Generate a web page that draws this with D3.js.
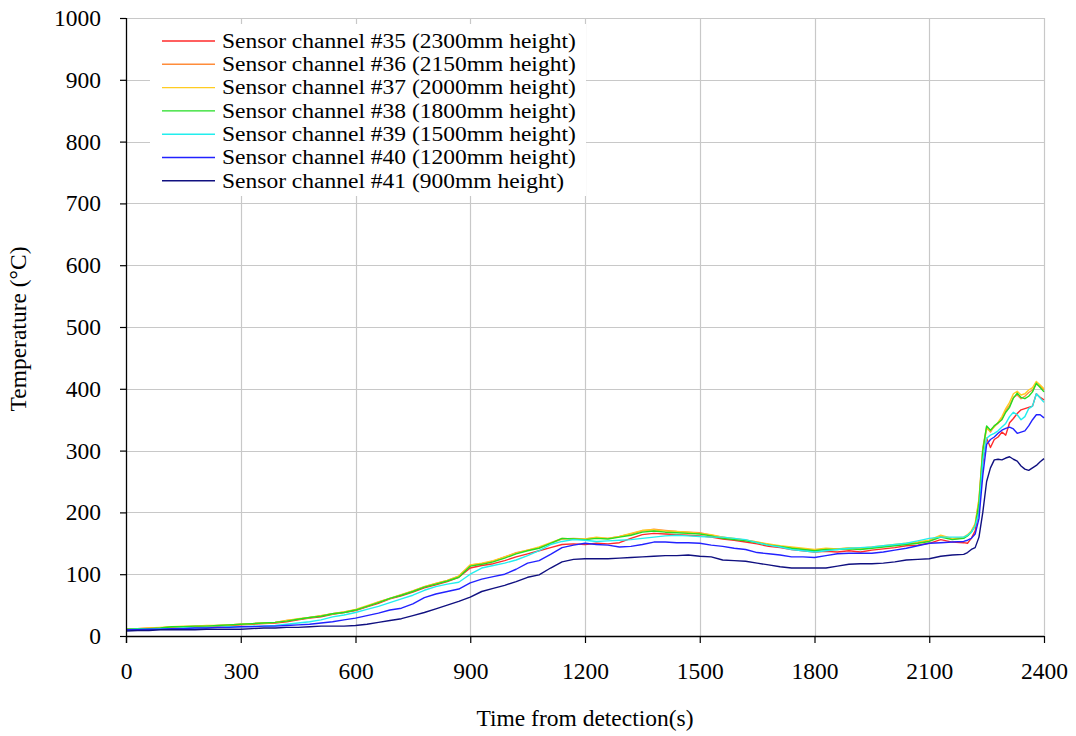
<!DOCTYPE html>
<html>
<head>
<meta charset="utf-8">
<script src="https://cdn.jsdelivr.net/npm/d3@7"></script>
<style>
  html, body { margin: 0; padding: 0; background: #fff; }
  svg { display: block; }
</style>
</head>
<body>
<svg id="chart" width="1076" height="736"></svg>
<script>
// Sample times (s from detection)
const times = [0,30,60,90,120,150,180,210,240,270,300,330,360,390,420,450,480,510,540,570,
  600,630,660,690,720,750,780,810,840,870,900,930,960,990,1020,1050,1080,1110,1140,1170,
  1200,1230,1260,1290,1320,1350,1380,1410,1440,1470,1500,1530,1560,1590,1620,1650,1680,1710,1740,1770,
  1800,1830,1860,1890,1920,1950,1980,2010,2040,2070,2100,2130,2160,2190,
  2200,2210,2220,2230,2240,2250,2260,2270,2280,2290,2300,2310,2320,2330,2340,2350,2360,2370,2380,2390,2400];

// Temperatures (°C) per sensor channel
const ch35 = [11,12,12,13,14,15,15,16,16,17,18,19,20,21,23,26,29,31,35,38,
  41,47,53,60,65,71,78,83,88,95,110,114,117,122,128,133,138,143,148,149,
  148,150,149,151,158,164,166,165,164,163,162,160,157,155,152,149,145,143,140,138,
  136,137,136,138,136,139,141,143,146,147,150,156,152,151,
  150,158,170,205,280,320,305,318,322,330,325,345,352,360,366,368,370,372,392,386,382];
const ch36 = [11,12,13,13,15,15,16,16,17,18,19,20,21,22,25,27,30,33,36,39,
  42,48,55,61,67,73,80,85,90,97,115,117,121,128,135,139,143,150,157,158,
  157,159,158,161,165,170,173,171,169,168,167,163,160,157,155,152,148,145,143,141,
  139,141,141,142,141,143,145,147,149,151,154,162,157,159,
  163,169,180,220,305,338,330,340,344,352,365,373,386,390,384,388,394,398,408,404,398];
const ch37 = [11,12,13,14,15,16,16,17,17,18,19,20,21,22,25,28,30,33,36,39,
  43,49,55,61,67,73,80,85,90,97,115,118,122,128,134,139,144,151,158,157,
  157,160,158,161,166,171,172,170,169,168,166,164,160,158,155,152,149,146,144,142,
  140,142,141,143,142,144,146,148,150,152,155,163,158,160,
  164,170,182,222,300,335,332,338,346,355,368,378,392,396,390,392,398,402,412,406,400];
const ch38 = [11,12,12,13,15,15,16,16,17,18,19,20,21,22,24,27,30,32,36,38,
  42,48,54,61,66,72,79,84,89,95,113,116,120,126,133,138,142,150,158,157,
  156,158,157,160,163,168,170,168,167,166,165,162,158,156,154,151,147,145,142,140,
  138,140,140,141,140,142,144,146,148,150,153,160,156,158,
  162,168,178,215,300,340,333,340,345,350,362,370,385,393,386,384,388,395,409,402,395];
const ch39 = [10,11,11,12,12,13,13,14,14,15,15,16,16,17,19,21,23,26,31,34,
  38,43,48,54,60,66,74,80,84,87,100,110,114,118,123,130,138,148,153,156,
  155,153,154,155,156,158,160,162,163,162,161,160,160,158,156,151,147,144,140,138,
  136,138,140,142,143,144,146,148,150,154,158,160,160,160,
  163,168,178,200,285,320,325,328,332,338,344,355,362,358,350,355,368,372,392,385,378];
const ch40 = [10,10,11,11,12,12,13,13,14,14,15,15,16,16,17,18,19,21,23,26,
  29,33,37,42,45,52,62,68,72,76,86,92,96,100,108,118,122,132,143,147,
  150,148,147,144,145,148,152,152,151,151,150,147,145,142,140,135,133,131,128,128,
  127,130,133,134,134,134,136,139,142,146,150,151,152,153,
  155,158,165,190,260,310,318,322,328,333,336,338,335,328,330,332,340,350,358,358,353];
const ch41 = [8,9,9,10,10,10,10,11,11,11,11,12,13,13,14,14,15,16,16,16,
  17,19,22,25,28,33,38,44,50,56,63,72,77,82,88,95,99,110,120,124,
  125,125,125,126,127,128,129,130,130,131,129,128,123,122,121,118,115,112,110,110,
  110,110,113,116,117,117,118,120,123,124,125,129,131,132,
  135,140,143,160,200,250,272,285,286,285,288,290,286,283,275,270,268,272,276,282,287];

const seriesNames = [
  "Sensor channel #35 (2300mm height)",
  "Sensor channel #36 (2150mm height)",
  "Sensor channel #37 (2000mm height)",
  "Sensor channel #38 (1800mm height)",
  "Sensor channel #39 (1500mm height)",
  "Sensor channel #40 (1200mm height)",
  "Sensor channel #41 (900mm height)"
];
const seriesValues = [ch35, ch36, ch37, ch38, ch39, ch40, ch41];
const seriesColors = ["#ff2a2a", "#ff8c3a", "#ffcc22", "#22dd22", "#22eeee", "#2222ff", "#101080"];

const xTicks = [0,300,600,900,1200,1500,1800,2100,2400];
const yTicks = [0,100,200,300,400,500,600,700,800,900,1000];

const FONT = "'Liberation Serif', 'Times New Roman', serif";
const FS = "23.5px";

const svg = d3.select("#chart");
const margin = {left: 126, right: 32, top: 18, bottom: 100};
const W = 1076, H = 736;

const x = d3.scaleLinear().domain([0, 2400]).range([margin.left, W - margin.right]);
const y = d3.scaleLinear().domain([0, 1000]).range([H - margin.bottom, margin.top]);

// Gridlines (top and right edges included)
const grid = svg.append("g").attr("stroke", "#c8c8c8").attr("stroke-width", 1.2);
grid.selectAll("line.gy").data(yTicks.filter(d => d > 0)).join("line")
  .attr("x1", x(0)).attr("x2", x(2400))
  .attr("y1", d => Math.round(y(d)) + 0.5).attr("y2", d => Math.round(y(d)) + 0.5);
grid.selectAll("line.gx").data(xTicks.filter(d => d > 0)).join("line")
  .attr("y1", y(0)).attr("y2", y(1000))
  .attr("x1", d => Math.round(x(d)) + 0.5).attr("x2", d => Math.round(x(d)) + 0.5);

// Data lines
const line = d3.line()
  .x((d, i) => x(times[i]))
  .y(d => y(d));

svg.append("g").selectAll("path").data(seriesValues).join("path")
  .attr("d", d => line(d))
  .attr("fill", "none")
  .attr("stroke", (d, i) => seriesColors[i])
  .attr("stroke-width", 1.4)
  .attr("stroke-linejoin", "round");

// Axes
const xAxis = d3.axisBottom(x).tickValues(xTicks).tickSize(7).tickPadding(19).tickFormat(d3.format("d"));
const yAxis = d3.axisLeft(y).tickValues(yTicks).tickSize(6).tickPadding(19).tickFormat(d3.format("d"));

const gx = svg.append("g").attr("transform", `translate(0,${y(0)})`).call(xAxis);
const gy = svg.append("g").attr("transform", `translate(${x(0)},0)`).call(yAxis);
[gx, gy].forEach(g => {
  g.attr("font-family", null).attr("font-size", null);
  g.select(".domain").attr("stroke", "#000").attr("stroke-width", 1.3);
  g.selectAll(".tick line").attr("stroke", "#000").attr("stroke-width", 1.2);
  g.selectAll(".tick text")
    .style("font-family", FONT).style("font-size", FS).attr("fill", "#000");
});
gx.select(".domain").attr("d", `M${x(0)},0.5H${x(2400)}`);
gy.select(".domain").attr("d", `M0.5,${y(0) + 7}V${y(1000)}`);

// Axis titles
svg.append("text")
  .attr("x", (x(0) + x(2400)) / 2).attr("y", 726)
  .attr("text-anchor", "middle")
  .style("font-family", FONT).style("font-size", FS)
  .text("Time from detection(s)");
svg.append("text")
  .attr("transform", `translate(26,${(y(0) + y(1000)) / 2 + 2}) rotate(-90)`)
  .attr("text-anchor", "middle")
  .style("font-family", FONT).style("font-size", FS)
  .text("Temperature (°C)");

// Legend: compact rows, text widened to the legend's column width
const legend = svg.append("g").attr("transform", "translate(150,24)");
legend.append("rect").attr("x", 0).attr("y", 0).attr("width", 436).attr("height", 172).attr("fill", "#fff");
const rows = legend.selectAll("g.row").data(seriesNames).join("g")
  .attr("transform", (d, i) => `translate(0,${17 + i * 23.3})`);
rows.append("line")
  .attr("x1", 12).attr("x2", 65).attr("y1", 0).attr("y2", 0)
  .attr("stroke", (d, i) => seriesColors[i]).attr("stroke-width", 1.4);
rows.append("text")
  .attr("x", 72).attr("y", 0).attr("dy", "0.33em")
  .style("font-family", FONT).style("font-size", "20.5px")
  .text(d => d)
  .each(function() {
    const w = this.getComputedTextLength();
    d3.select(this).attr("textLength", w * 23.5 / 20.5).attr("lengthAdjust", "spacingAndGlyphs");
  });
</script>
</body>
</html>
